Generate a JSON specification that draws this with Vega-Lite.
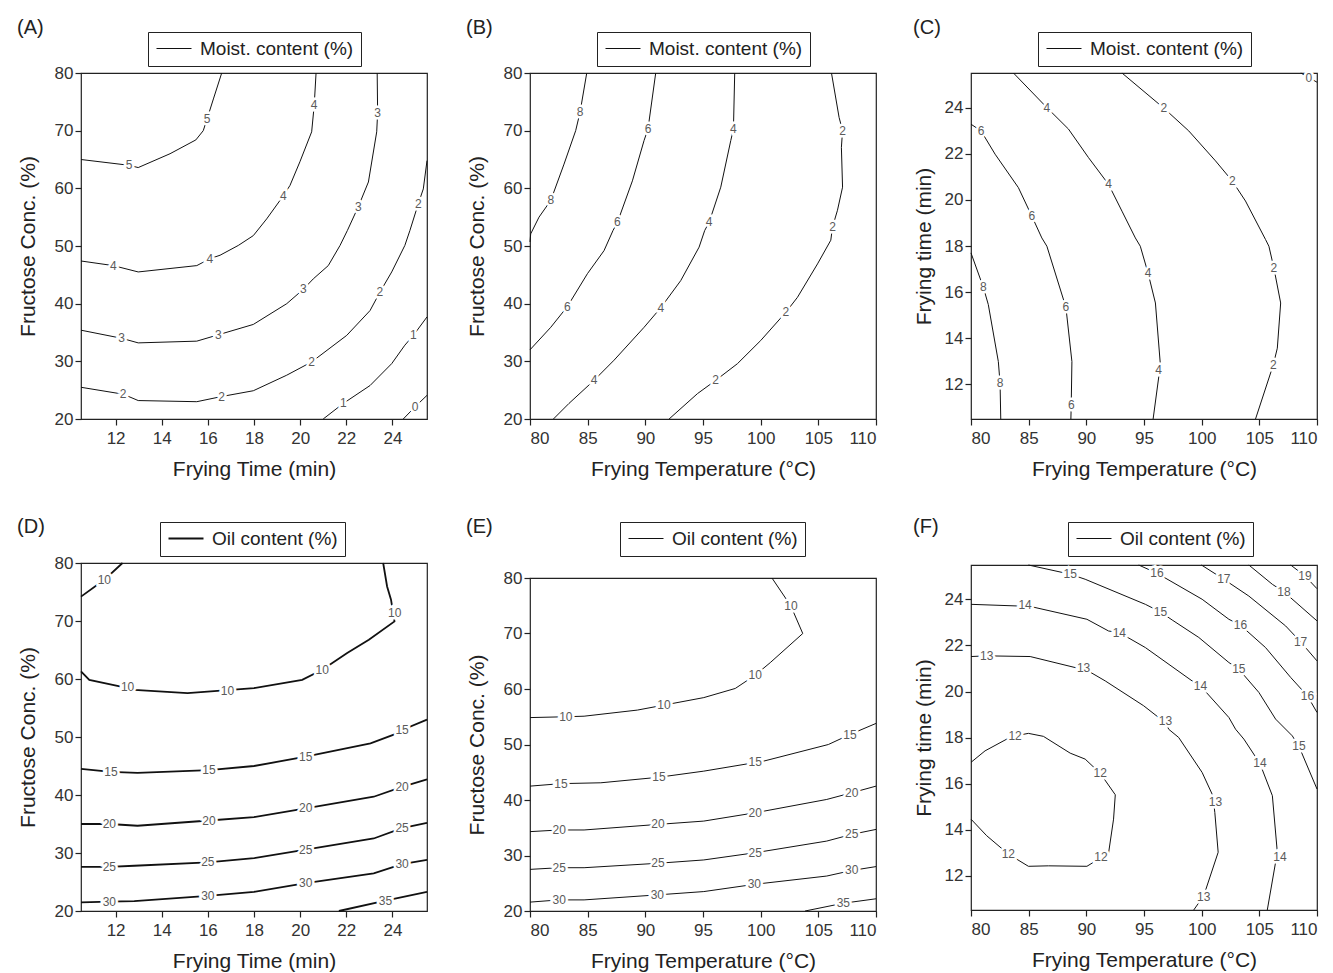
{
"$schema": "https://vega.github.io/schema/vega-lite/v6.json",
"padding": {"left": 16, "top": 16, "right": 5, "bottom": 5},
"background": "white",
"config": {
  "font": "Liberation Sans",
  "view": {"stroke": "#222", "strokeWidth": 1.2},
  "axis": {"domain": false, "grid": false, "tickSize": 6, "tickWidth": 1.2, "tickColor": "#222", "labelFontSize": 17, "labelColor": "#333", "labelFont": "Liberation Sans", "titleFont": "Liberation Sans", "titleFontSize": 21, "titleFontWeight": "normal", "titleColor": "#222", "labelPadding": 2},
  "axisY": {"titlePadding": 16},
  "axisX": {"titlePadding": 12, "labelPadding": 5},
  "legend": {"strokeColor": "#222", "padding": 7, "labelFontSize": 19, "labelColor": "#222", "labelFont": "Liberation Sans", "labelOffset": 26, "symbolSize": 256, "symbolStrokeWidth": 1, "symbolType": "M-1,0H3.375", "fillColor": "white"},
  "title": {"anchor": "start", "frame": "bounds", "fontSize": 20, "fontWeight": "normal", "color": "#222", "font": "Liberation Sans", "offset": -6},
  "text": {"font": "Liberation Sans", "fontSize": 12}
},
"datasets": {
"A_lines": [
{"c":"5","x":10.5,"y":65.0},{"c":"5","x":12.58,"y":64.0},{"c":"5","x":12.98,"y":63.6},{"c":"5","x":14.36,"y":66.0},{"c":"5","x":15.48,"y":68.4},{"c":"5","x":15.8,"y":70.0},{"c":"5","x":15.97,"y":72.1},{"c":"5","x":16.24,"y":75.5},{"c":"5","x":16.6,"y":80},
{"c":"4","x":20.69,"y":80},{"c":"4","x":20.61,"y":74.4},{"c":"4","x":20.5,"y":69.8},{"c":"4","x":19.99,"y":64.6},{"c":"4","x":19.56,"y":60.5},{"c":"4","x":19.27,"y":58.7},{"c":"4","x":18.55,"y":54.7},{"c":"4","x":17.97,"y":51.8},{"c":"4","x":17.32,"y":50.1},{"c":"4","x":16.53,"y":48.4},{"c":"4","x":16.09,"y":47.8},{"c":"4","x":15.52,"y":46.6},{"c":"4","x":12.98,"y":45.5},{"c":"4","x":11.9,"y":46.6},{"c":"4","x":10.5,"y":47.4},
{"c":"3","x":23.34,"y":80},{"c":"3","x":23.36,"y":73.1},{"c":"3","x":23.32,"y":69.8},{"c":"3","x":22.96,"y":61.1},{"c":"3","x":22.52,"y":56.8},{"c":"3","x":22.05,"y":52.7},{"c":"3","x":21.73,"y":50.1},{"c":"3","x":21.22,"y":46.6},{"c":"3","x":20.57,"y":44.3},{"c":"3","x":20.14,"y":42.5},{"c":"3","x":19.42,"y":40.0},{"c":"3","x":17.97,"y":36.4},{"c":"3","x":16.45,"y":34.6},{"c":"3","x":15.52,"y":33.5},{"c":"3","x":12.98,"y":33.2},{"c":"3","x":12.26,"y":34.0},{"c":"3","x":10.5,"y":35.4},
{"c":"2","x":25.5,"y":64.8},{"c":"2","x":25.34,"y":59.9},{"c":"2","x":25.12,"y":57.3},{"c":"2","x":24.76,"y":52.7},{"c":"2","x":24.54,"y":50.1},{"c":"2","x":23.97,"y":45.5},{"c":"2","x":23.46,"y":42.0},{"c":"2","x":23.03,"y":38.8},{"c":"2","x":22.02,"y":34.5},{"c":"2","x":20.5,"y":29.9},{"c":"2","x":19.42,"y":27.6},{"c":"2","x":17.97,"y":24.9},{"c":"2","x":16.6,"y":23.9},{"c":"2","x":15.52,"y":23.0},{"c":"2","x":12.98,"y":23.2},{"c":"2","x":12.33,"y":24.3},{"c":"2","x":10.5,"y":25.5},
{"c":"1","x":25.5,"y":37.7},{"c":"1","x":24.91,"y":34.5},{"c":"1","x":24.54,"y":32.8},{"c":"1","x":23.97,"y":29.6},{"c":"1","x":23.03,"y":25.8},{"c":"1","x":21.87,"y":22.7},{"c":"1","x":21.0,"y":20.0},
{"c":"0","x":25.5,"y":24.1},{"c":"0","x":24.98,"y":22.1},{"c":"0","x":24.47,"y":20.0}
],
"A_labels": [
{"t":"5","x":12.58,"y":64.0},{"t":"5","x":15.97,"y":72.1},
{"t":"4","x":20.61,"y":74.4},{"t":"4","x":19.27,"y":58.7},{"t":"4","x":16.09,"y":47.8},{"t":"4","x":11.9,"y":46.6},
{"t":"3","x":23.36,"y":73.1},{"t":"3","x":22.52,"y":56.8},{"t":"3","x":20.14,"y":42.5},{"t":"3","x":16.45,"y":34.6},{"t":"3","x":12.26,"y":34.0},
{"t":"2","x":25.12,"y":57.3},{"t":"2","x":23.46,"y":42.0},{"t":"2","x":20.5,"y":29.9},{"t":"2","x":16.6,"y":23.9},{"t":"2","x":12.33,"y":24.3},
{"t":"1","x":24.91,"y":34.5},{"t":"1","x":21.87,"y":22.7},
{"t":"0","x":24.98,"y":22.1}
],
"B_lines": [
{"c":"8","x":84.92,"y":80},{"c":"8","x":84.34,"y":73.2},{"c":"8","x":83.96,"y":70.0},{"c":"8","x":82.95,"y":64.2},{"c":"8","x":81.8,"y":57.9},{"c":"8","x":80.78,"y":55.0},{"c":"8","x":80.06,"y":52.1},{"c":"8","x":80,"y":50.7},
{"c":"6","x":90.9,"y":80},{"c":"6","x":90.23,"y":70.3},{"c":"6","x":89.89,"y":68.3},{"c":"6","x":88.88,"y":61.3},{"c":"6","x":87.58,"y":54.1},{"c":"6","x":87.2,"y":52.7},{"c":"6","x":86.42,"y":49.2},{"c":"6","x":84.98,"y":45.2},{"c":"6","x":83.24,"y":39.5},{"c":"6","x":81.8,"y":35.9},{"c":"6","x":80,"y":32.0},
{"c":"4","x":97.75,"y":80},{"c":"4","x":97.64,"y":70.3},{"c":"4","x":97.41,"y":68.3},{"c":"4","x":96.54,"y":60.2},{"c":"4","x":95.53,"y":54.1},{"c":"4","x":95.15,"y":52.7},{"c":"4","x":94.66,"y":49.8},{"c":"4","x":93.07,"y":44.0},{"c":"4","x":91.34,"y":39.3},{"c":"4","x":89.89,"y":35.9},{"c":"4","x":87.29,"y":30.2},{"c":"4","x":85.55,"y":26.7},{"c":"4","x":83.38,"y":22.7},{"c":"4","x":82.03,"y":20},
{"c":"2","x":106.14,"y":80},{"c":"2","x":106.8,"y":72.3},{"c":"2","x":107.1,"y":70.0},{"c":"2","x":107.0,"y":67.1},{"c":"2","x":107.1,"y":60.2},{"c":"2","x":106.66,"y":56.2},{"c":"2","x":106.23,"y":53.3},{"c":"2","x":106.08,"y":51.0},{"c":"2","x":104.93,"y":46.9},{"c":"2","x":103.19,"y":41.1},{"c":"2","x":102.18,"y":38.5},{"c":"2","x":100.0,"y":33.6},{"c":"2","x":97.99,"y":29.6},{"c":"2","x":96.1,"y":26.7},{"c":"2","x":94.52,"y":24.4},{"c":"2","x":92.06,"y":20}
],
"B_labels": [
{"t":"8","x":84.34,"y":73.2},{"t":"8","x":81.8,"y":57.9},
{"t":"6","x":90.23,"y":70.3},{"t":"6","x":87.58,"y":54.1},{"t":"6","x":83.24,"y":39.5},
{"t":"4","x":97.64,"y":70.3},{"t":"4","x":95.53,"y":54.1},{"t":"4","x":91.34,"y":39.3},{"t":"4","x":85.55,"y":26.7},
{"t":"2","x":107.1,"y":70.0},{"t":"2","x":106.23,"y":53.3},{"t":"2","x":102.18,"y":38.5},{"t":"2","x":96.1,"y":26.7}
],
"C_lines": [
{"c":"0","x":108.6,"y":25.5},{"c":"0","x":109.3,"y":25.3},{"c":"0","x":110,"y":25.1},
{"c":"2","x":93.09,"y":25.5},{"c":"2","x":96.71,"y":23.98},{"c":"2","x":98.88,"y":22.99},{"c":"2","x":101.2,"y":21.69},{"c":"2","x":102.65,"y":20.82},{"c":"2","x":103.8,"y":19.95},{"c":"2","x":105.54,"y":18.28},{"c":"2","x":105.83,"y":17.99},{"c":"2","x":106.26,"y":17.05},{"c":"2","x":106.85,"y":15.53},{"c":"2","x":106.56,"y":13.57},{"c":"2","x":106.21,"y":12.85},{"c":"2","x":104.67,"y":10.5},
{"c":"4","x":83.68,"y":25.5},{"c":"4","x":86.58,"y":24.0},{"c":"4","x":88.45,"y":23.07},{"c":"4","x":90.19,"y":21.83},{"c":"4","x":91.93,"y":20.67},{"c":"4","x":93.09,"y":19.51},{"c":"4","x":94.25,"y":18.35},{"c":"4","x":94.68,"y":17.99},{"c":"4","x":95.35,"y":16.83},{"c":"4","x":95.99,"y":15.53},{"c":"4","x":96.42,"y":12.85},{"c":"4","x":95.79,"y":10.5},
{"c":"6","x":80,"y":23.28},{"c":"6","x":80.87,"y":22.99},{"c":"6","x":82.09,"y":21.98},{"c":"6","x":84.11,"y":20.53},{"c":"6","x":85.27,"y":19.3},{"c":"6","x":86.14,"y":18.35},{"c":"6","x":86.58,"y":17.99},{"c":"6","x":88.23,"y":15.34},{"c":"6","x":88.75,"y":12.99},{"c":"6","x":88.69,"y":11.11},{"c":"6","x":88.66,"y":10.5},
{"c":"8","x":80,"y":17.7},{"c":"8","x":81.07,"y":16.21},{"c":"8","x":81.5,"y":15.46},{"c":"8","x":82.37,"y":12.99},{"c":"8","x":82.52,"y":12.05},{"c":"8","x":82.58,"y":10.5}
],
"C_labels": [
{"t":"0","x":109.3,"y":25.3},
{"t":"2","x":96.71,"y":23.98},{"t":"2","x":102.65,"y":20.82},{"t":"2","x":106.26,"y":17.05},{"t":"2","x":106.21,"y":12.85},
{"t":"4","x":86.58,"y":24.0},{"t":"4","x":91.93,"y":20.67},{"t":"4","x":95.35,"y":16.83},{"t":"4","x":96.27,"y":12.63},
{"t":"6","x":80.87,"y":22.99},{"t":"6","x":85.27,"y":19.3},{"t":"6","x":88.23,"y":15.34},{"t":"6","x":88.69,"y":11.11},
{"t":"8","x":81.07,"y":16.21},{"t":"8","x":82.52,"y":12.05}
],
"D_lines": [
{"c":"10a","x":10.5,"y":74.2},{"c":"10a","x":11.51,"y":77.1},{"c":"10a","x":12.3,"y":80},
{"c":"10b","x":10.5,"y":61.3},{"c":"10b","x":10.86,"y":59.86},{"c":"10b","x":12.23,"y":58.7},{"c":"10b","x":12.81,"y":58.14},{"c":"10b","x":15.12,"y":57.57},{"c":"10b","x":18.0,"y":58.43},{"c":"10b","x":20.09,"y":59.86},{"c":"10b","x":20.96,"y":61.59},{"c":"10b","x":22.04,"y":64.47},{"c":"10b","x":22.98,"y":66.76},{"c":"10b","x":24.09,"y":69.92},{"c":"10b","x":23.94,"y":73.67},{"c":"10b","x":23.77,"y":75.96},{"c":"10b","x":23.6,"y":80},
{"c":"15","x":10.5,"y":44.5},{"c":"15","x":11.8,"y":44.0},{"c":"15","x":12.95,"y":43.8},{"c":"15","x":16.05,"y":44.3},{"c":"15","x":18.0,"y":45.0},{"c":"15","x":20.24,"y":46.6},{"c":"15","x":23.05,"y":48.9},{"c":"15","x":24.06,"y":50.4},{"c":"15","x":24.42,"y":51.2},{"c":"15","x":25.5,"y":53.0},
{"c":"20","x":10.5,"y":35.0},{"c":"20","x":11.73,"y":35.0},{"c":"20","x":12.95,"y":34.7},{"c":"20","x":16.05,"y":35.6},{"c":"20","x":18.0,"y":36.2},{"c":"20","x":20.24,"y":37.7},{"c":"20","x":23.19,"y":39.7},{"c":"20","x":24.42,"y":41.4},{"c":"20","x":25.5,"y":42.7},
{"c":"25","x":10.5,"y":27.6},{"c":"25","x":11.73,"y":27.6},{"c":"25","x":12.81,"y":27.8},{"c":"25","x":16.0,"y":28.4},{"c":"25","x":18.0,"y":29.1},{"c":"25","x":20.24,"y":30.6},{"c":"25","x":23.19,"y":32.5},{"c":"25","x":24.42,"y":34.3},{"c":"25","x":25.5,"y":35.2},
{"c":"30","x":10.5,"y":21.5},{"c":"30","x":11.73,"y":21.6},{"c":"30","x":12.81,"y":21.7},{"c":"30","x":16.0,"y":22.6},{"c":"30","x":18.0,"y":23.3},{"c":"30","x":20.24,"y":24.8},{"c":"30","x":23.19,"y":26.5},{"c":"30","x":24.42,"y":28.1},{"c":"30","x":25.5,"y":28.8},
{"c":"35","x":21.68,"y":20},{"c":"35","x":23.7,"y":21.8},{"c":"35","x":25.5,"y":23.3}
],
"D_labels": [
{"t":"10","x":11.51,"y":77.1},{"t":"10","x":24.1,"y":71.4},{"t":"10","x":20.96,"y":61.6},{"t":"10","x":16.85,"y":58.0},{"t":"10","x":12.52,"y":58.7},
{"t":"15","x":11.8,"y":44.0},{"t":"15","x":16.05,"y":44.3},{"t":"15","x":20.24,"y":46.6},{"t":"15","x":24.42,"y":51.2},
{"t":"20","x":11.73,"y":35.0},{"t":"20","x":16.05,"y":35.6},{"t":"20","x":20.24,"y":37.7},{"t":"20","x":24.42,"y":41.4},
{"t":"25","x":11.73,"y":27.6},{"t":"25","x":16.0,"y":28.4},{"t":"25","x":20.24,"y":30.6},{"t":"25","x":24.42,"y":34.3},
{"t":"30","x":11.73,"y":21.6},{"t":"30","x":16.0,"y":22.6},{"t":"30","x":20.24,"y":24.8},{"t":"30","x":24.42,"y":28.1},
{"t":"35","x":23.7,"y":21.8}
],
"E_lines": [
{"c":"10","x":80,"y":54.85},{"c":"10","x":83.11,"y":55.0},{"c":"10","x":84.69,"y":55.1},{"c":"10","x":89.31,"y":56.2},{"c":"10","x":91.61,"y":57.1},{"c":"10","x":95.07,"y":58.45},{"c":"10","x":97.8,"y":60.1},{"c":"10","x":99.53,"y":62.5},{"c":"10","x":100.83,"y":64.75},{"c":"10","x":103.65,"y":70.0},{"c":"10","x":102.62,"y":74.95},{"c":"10","x":100.98,"y":80},
{"c":"15","x":80,"y":42.5},{"c":"15","x":82.68,"y":42.95},{"c":"15","x":86.14,"y":43.1},{"c":"15","x":91.18,"y":44.1},{"c":"15","x":95.07,"y":45.2},{"c":"15","x":100.25,"y":47.0},{"c":"15","x":105.87,"y":50.0},{"c":"15","x":107.74,"y":51.8},{"c":"15","x":110,"y":53.8},
{"c":"20","x":80,"y":34.3},{"c":"20","x":82.53,"y":34.6},{"c":"20","x":84.69,"y":34.6},{"c":"20","x":91.09,"y":35.6},{"c":"20","x":95.07,"y":36.2},{"c":"20","x":99.53,"y":37.7},{"c":"20","x":105.73,"y":40.1},{"c":"20","x":107.89,"y":41.3},{"c":"20","x":110,"y":42.5},
{"c":"25","x":80,"y":27.5},{"c":"25","x":82.53,"y":27.8},{"c":"25","x":84.69,"y":27.8},{"c":"25","x":91.09,"y":28.6},{"c":"25","x":95.07,"y":29.2},{"c":"25","x":99.53,"y":30.5},{"c":"25","x":105.73,"y":32.6},{"c":"25","x":107.89,"y":33.8},{"c":"25","x":110,"y":34.7},
{"c":"30","x":80,"y":21.6},{"c":"30","x":82.53,"y":22.0},{"c":"30","x":84.69,"y":22.0},{"c":"30","x":91.04,"y":22.9},{"c":"30","x":95.07,"y":23.5},{"c":"30","x":99.45,"y":24.8},{"c":"30","x":105.73,"y":26.3},{"c":"30","x":107.89,"y":27.3},{"c":"30","x":110,"y":28.0},
{"c":"35","x":103.85,"y":20},{"c":"35","x":107.17,"y":21.4},{"c":"35","x":110,"y":22.2}
],
"E_labels": [
{"t":"10","x":83.11,"y":55.0},{"t":"10","x":91.61,"y":57.1},{"t":"10","x":99.53,"y":62.5},{"t":"10","x":102.62,"y":74.95},
{"t":"15","x":82.68,"y":42.95},{"t":"15","x":91.18,"y":44.1},{"t":"15","x":99.53,"y":46.8},{"t":"15","x":107.74,"y":51.8},
{"t":"20","x":82.53,"y":34.6},{"t":"20","x":91.09,"y":35.6},{"t":"20","x":99.53,"y":37.7},{"t":"20","x":107.89,"y":41.3},
{"t":"25","x":82.53,"y":27.8},{"t":"25","x":91.09,"y":28.6},{"t":"25","x":99.53,"y":30.5},{"t":"25","x":107.89,"y":33.8},
{"t":"30","x":82.53,"y":22.0},{"t":"30","x":91.04,"y":22.9},{"t":"30","x":99.45,"y":24.8},{"t":"30","x":107.89,"y":27.3},
{"t":"35","x":107.17,"y":21.4}
],
"F_lines": [
{"c":"12","x":80,"y":16.92},{"c":"12","x":81.22,"y":17.42},{"c":"12","x":83.1,"y":17.93},{"c":"12","x":83.82,"y":18.07},{"c":"12","x":84.98,"y":18.18},{"c":"12","x":86.28,"y":18.05},{"c":"12","x":88.6,"y":17.32},{"c":"12","x":89.9,"y":17.06},{"c":"12","x":91.21,"y":16.44},{"c":"12","x":92.51,"y":15.51},{"c":"12","x":92.36,"y":14.45},{"c":"12","x":91.93,"y":12.98},{"c":"12","x":90.05,"y":12.4},{"c":"12","x":86.72,"y":12.42},{"c":"12","x":84.98,"y":12.4},{"c":"12","x":83.24,"y":12.93},{"c":"12","x":81.36,"y":13.73},{"c":"12","x":80,"y":14.45},
{"c":"13","x":80,"y":21.52},{"c":"13","x":81.36,"y":21.55},{"c":"13","x":85.13,"y":21.52},{"c":"13","x":89.04,"y":21.04},{"c":"13","x":89.76,"y":21.01},{"c":"13","x":91.64,"y":20.46},{"c":"13","x":94.97,"y":19.38},{"c":"13","x":96.27,"y":18.87},{"c":"13","x":96.86,"y":18.7},{"c":"13","x":97.14,"y":18.36},{"c":"13","x":98.01,"y":18.0},{"c":"13","x":100.04,"y":16.48},{"c":"13","x":100.97,"y":15.47},{"c":"13","x":101.14,"y":14.74},{"c":"13","x":101.43,"y":13.01},{"c":"13","x":100.18,"y":11.12},{"c":"13","x":99.31,"y":10.5},
{"c":"14","x":80,"y":23.79},{"c":"14","x":83.97,"y":23.72},{"c":"14","x":84.69,"y":23.75},{"c":"14","x":90.05,"y":23.14},{"c":"14","x":91.93,"y":22.63},{"c":"14","x":92.86,"y":22.56},{"c":"14","x":95.12,"y":21.91},{"c":"14","x":99.17,"y":20.46},{"c":"14","x":99.9,"y":20.24},{"c":"14","x":102.36,"y":18.87},{"c":"14","x":102.94,"y":18.36},{"c":"14","x":103.66,"y":17.93},{"c":"14","x":105.05,"y":16.87},{"c":"14","x":106.13,"y":15.47},{"c":"14","x":106.56,"y":13.01},{"c":"14","x":105.69,"y":10.5},
{"c":"15","x":84.98,"y":25.5},{"c":"15","x":88.6,"y":25.1},{"c":"15","x":89.9,"y":24.88},{"c":"15","x":95.12,"y":23.79},{"c":"15","x":96.42,"y":23.46},{"c":"15","x":97.44,"y":23.11},{"c":"15","x":99.75,"y":22.35},{"c":"15","x":102.36,"y":21.26},{"c":"15","x":103.22,"y":20.97},{"c":"15","x":104.96,"y":19.96},{"c":"15","x":106.41,"y":18.8},{"c":"15","x":107.86,"y":18.07},{"c":"15","x":108.44,"y":17.61},{"c":"15","x":110,"y":15.76},
{"c":"16","x":94.54,"y":25.5},{"c":"16","x":96.13,"y":25.14},{"c":"16","x":100.04,"y":24.01},{"c":"16","x":102.36,"y":23.14},{"c":"16","x":103.37,"y":22.88},{"c":"16","x":105.54,"y":21.91},{"c":"16","x":107.72,"y":20.61},{"c":"16","x":109.17,"y":19.81},{"c":"16","x":110,"y":19.09},
{"c":"17","x":99.98,"y":25.5},{"c":"17","x":101.92,"y":24.88},{"c":"17","x":104.09,"y":24.15},{"c":"17","x":107.28,"y":22.85},{"c":"17","x":108.58,"y":22.16},{"c":"17","x":110,"y":21.33},
{"c":"18","x":104.09,"y":25.5},{"c":"18","x":106.13,"y":24.66},{"c":"18","x":107.14,"y":24.33},{"c":"18","x":110,"y":23.07},
{"c":"19","x":107.72,"y":25.5},{"c":"19","x":108.96,"y":25.02},{"c":"19","x":110,"y":24.47}
],
"F_labels": [
{"t":"12","x":83.82,"y":18.07},{"t":"12","x":91.21,"y":16.44},{"t":"12","x":91.27,"y":12.79},{"t":"12","x":83.24,"y":12.93},
{"t":"13","x":81.36,"y":21.55},{"t":"13","x":89.76,"y":21.01},{"t":"13","x":96.86,"y":18.7},{"t":"13","x":101.2,"y":15.18},{"t":"13","x":100.18,"y":11.05},
{"t":"14","x":84.69,"y":23.75},{"t":"14","x":92.86,"y":22.56},{"t":"14","x":99.9,"y":20.24},{"t":"14","x":105.05,"y":16.87},{"t":"14","x":106.79,"y":12.79},
{"t":"15","x":88.6,"y":25.1},{"t":"15","x":96.42,"y":23.46},{"t":"15","x":103.22,"y":20.97},{"t":"15","x":108.44,"y":17.61},
{"t":"16","x":96.13,"y":25.14},{"t":"16","x":103.37,"y":22.88},{"t":"16","x":109.17,"y":19.81},
{"t":"17","x":101.92,"y":24.88},{"t":"17","x":108.58,"y":22.16},
{"t":"18","x":107.14,"y":24.33},
{"t":"19","x":108.96,"y":25.02}
]
},
"columns": 3,
"spacing": {"row": 35, "column": 33},
"align": {"row": "none", "column": "each"},
"resolve": {"scale": {"x": "independent", "y": "independent", "color": "independent"}, "legend": {"color": "independent"}},
"concat": [
{
 "width": 346, "height": 346,
 "title": {"text": "(A)"},
 "encoding": {
  "x": {"field": "x", "type": "quantitative", "title": "Frying Time (min)", "scale": {"domain": [10.5, 25.5], "nice": false, "zero": false}, "axis": {"values": [12,14,16,18,20,22,24]}},
  "y": {"field": "y", "type": "quantitative", "title": "Fructose Conc. (%)", "scale": {"domain": [20, 80], "nice": false, "zero": false}, "axis": {"values": [20,30,40,50,60,70,80]}}
 },
 "layer": [
  {"data": {"name": "A_lines"}, "mark": {"type": "line", "strokeWidth": 1}, "encoding": {"detail": {"field": "c", "type": "nominal"}, "order": {"value": null}, "color": {"datum": "Moist. content (%)", "type": "nominal", "scale": {"range": ["#111"]}, "legend": {"orient": "none", "legendX": 67, "legendY": -41, "title": null}}}},
  {"data": {"name": "A_labels"}, "mark": {"type": "text", "stroke": "white", "strokeWidth": 5, "fill": "white"}, "encoding": {"text": {"field": "t", "type": "nominal"}}},
  {"data": {"name": "A_labels"}, "mark": {"type": "text", "fill": "#5a5a5a"}, "encoding": {"text": {"field": "t", "type": "nominal"}}}
 ]
},
{
 "width": 346, "height": 346,
 "title": {"text": "(B)"},
 "encoding": {
  "x": {"field": "x", "type": "quantitative", "title": "Frying Temperature (°C)", "scale": {"domain": [80, 110], "nice": false, "zero": false}, "axis": {"values": [80,85,90,95,100,105,110]}},
  "y": {"field": "y", "type": "quantitative", "title": "Fructose Conc. (%)", "scale": {"domain": [20, 80], "nice": false, "zero": false}, "axis": {"values": [20,30,40,50,60,70,80]}}
 },
 "layer": [
  {"data": {"name": "B_lines"}, "mark": {"type": "line", "strokeWidth": 1}, "encoding": {"detail": {"field": "c", "type": "nominal"}, "order": {"value": null}, "color": {"datum": "Moist. content (%)", "type": "nominal", "scale": {"range": ["#111"]}, "legend": {"orient": "none", "legendX": 67, "legendY": -41, "title": null}}}},
  {"data": {"name": "B_labels"}, "mark": {"type": "text", "stroke": "white", "strokeWidth": 5, "fill": "white"}, "encoding": {"text": {"field": "t", "type": "nominal"}}},
  {"data": {"name": "B_labels"}, "mark": {"type": "text", "fill": "#5a5a5a"}, "encoding": {"text": {"field": "t", "type": "nominal"}}}
 ]
},
{
 "width": 346, "height": 346,
 "title": {"text": "(C)"},
 "encoding": {
  "x": {"field": "x", "type": "quantitative", "title": "Frying Temperature (°C)", "scale": {"domain": [80, 110], "nice": false, "zero": false}, "axis": {"values": [80,85,90,95,100,105,110]}},
  "y": {"field": "y", "type": "quantitative", "title": "Frying time (min)", "scale": {"domain": [10.5, 25.5], "nice": false, "zero": false}, "axis": {"values": [12,14,16,18,20,22,24], "titlePadding": 10}}
 },
 "layer": [
  {"data": {"name": "C_lines"}, "mark": {"type": "line", "strokeWidth": 1}, "encoding": {"detail": {"field": "c", "type": "nominal"}, "order": {"value": null}, "color": {"datum": "Moist. content (%)", "type": "nominal", "scale": {"range": ["#111"]}, "legend": {"orient": "none", "legendX": 67, "legendY": -41, "title": null}}}},
  {"data": {"name": "C_labels"}, "mark": {"type": "text", "stroke": "white", "strokeWidth": 5, "fill": "white"}, "encoding": {"text": {"field": "t", "type": "nominal"}}},
  {"data": {"name": "C_labels"}, "mark": {"type": "text", "fill": "#5a5a5a"}, "encoding": {"text": {"field": "t", "type": "nominal"}}}
 ]
},
{
 "width": 346, "height": 348,
 "title": {"text": "(D)", "offset": -15},
 "encoding": {
  "x": {"field": "x", "type": "quantitative", "title": "Frying Time (min)", "scale": {"domain": [10.5, 25.5], "nice": false, "zero": false}, "axis": {"values": [12,14,16,18,20,22,24]}},
  "y": {"field": "y", "type": "quantitative", "title": "Fructose Conc. (%)", "scale": {"domain": [20, 80], "nice": false, "zero": false}, "axis": {"values": [20,30,40,50,60,70,80]}}
 },
 "layer": [
  {"data": {"name": "D_lines"}, "mark": {"type": "line", "strokeWidth": 1.8}, "encoding": {"detail": {"field": "c", "type": "nominal"}, "order": {"value": null}, "color": {"datum": "Oil content (%)", "type": "nominal", "scale": {"range": ["#111"]}, "legend": {"orient": "none", "legendX": 79, "legendY": -41, "title": null, "symbolStrokeWidth": 1.8}}}},
  {"data": {"name": "D_labels"}, "mark": {"type": "text", "stroke": "white", "strokeWidth": 5, "fill": "white"}, "encoding": {"text": {"field": "t", "type": "nominal"}}},
  {"data": {"name": "D_labels"}, "mark": {"type": "text", "fill": "#5a5a5a"}, "encoding": {"text": {"field": "t", "type": "nominal"}}}
 ]
},
{
 "width": 346, "height": 333,
 "title": {"text": "(E)", "offset": -15},
 "encoding": {
  "x": {"field": "x", "type": "quantitative", "title": "Frying Temperature (°C)", "scale": {"domain": [80, 110], "nice": false, "zero": false}, "axis": {"values": [80,85,90,95,100,105,110]}},
  "y": {"field": "y", "type": "quantitative", "title": "Fructose Conc. (%)", "scale": {"domain": [20, 80], "nice": false, "zero": false}, "axis": {"values": [20,30,40,50,60,70,80]}}
 },
 "layer": [
  {"data": {"name": "E_lines"}, "mark": {"type": "line", "strokeWidth": 1}, "encoding": {"detail": {"field": "c", "type": "nominal"}, "order": {"value": null}, "color": {"datum": "Oil content (%)", "type": "nominal", "scale": {"range": ["#111"]}, "legend": {"orient": "none", "legendX": 90, "legendY": -56, "title": null}}}},
  {"data": {"name": "E_labels"}, "mark": {"type": "text", "stroke": "white", "strokeWidth": 5, "fill": "white"}, "encoding": {"text": {"field": "t", "type": "nominal"}}},
  {"data": {"name": "E_labels"}, "mark": {"type": "text", "fill": "#5a5a5a"}, "encoding": {"text": {"field": "t", "type": "nominal"}}}
 ]
},
{
 "width": 346, "height": 345,
 "title": {"text": "(F)", "offset": -15},
 "encoding": {
  "x": {"field": "x", "type": "quantitative", "title": "Frying Temperature (°C)", "scale": {"domain": [80, 110], "nice": false, "zero": false}, "axis": {"values": [80,85,90,95,100,105,110]}},
  "y": {"field": "y", "type": "quantitative", "title": "Frying time (min)", "scale": {"domain": [10.5, 25.5], "nice": false, "zero": false}, "axis": {"values": [12,14,16,18,20,22,24], "titlePadding": 10}}
 },
 "layer": [
  {"data": {"name": "F_lines"}, "mark": {"type": "line", "strokeWidth": 1}, "encoding": {"detail": {"field": "c", "type": "nominal"}, "order": {"value": null}, "color": {"datum": "Oil content (%)", "type": "nominal", "scale": {"range": ["#111"]}, "legend": {"orient": "none", "legendX": 97, "legendY": -43, "title": null}}}},
  {"data": {"name": "F_labels"}, "mark": {"type": "text", "stroke": "white", "strokeWidth": 5, "fill": "white"}, "encoding": {"text": {"field": "t", "type": "nominal"}}},
  {"data": {"name": "F_labels"}, "mark": {"type": "text", "fill": "#5a5a5a"}, "encoding": {"text": {"field": "t", "type": "nominal"}}}
 ]
}
]
}
